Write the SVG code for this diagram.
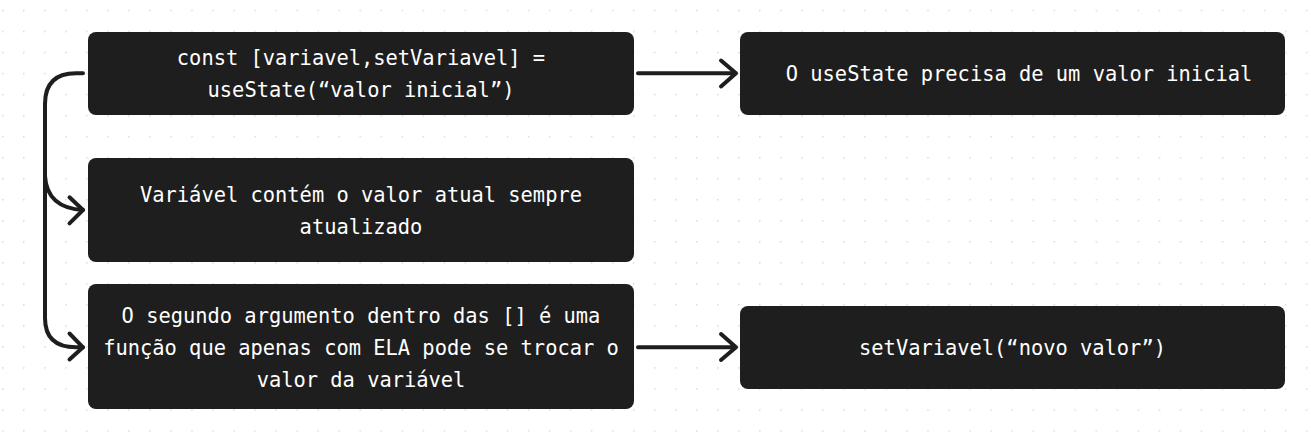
<svg xmlns="http://www.w3.org/2000/svg" width="1311" height="448" viewBox="0 0 1311 448">
<style>
.box{fill:#1e1e1e}
.t{fill:#ffffff;font-family:"DejaVu Sans Mono","Liberation Mono",monospace;font-size:20.4px;text-anchor:middle}
.c{fill:none;stroke:#1e1e1e;stroke-width:4;stroke-linecap:round;stroke-linejoin:round}
</style>
<defs>
<pattern id="dots" x="3" y="10.7" width="21.03" height="21.03" patternUnits="userSpaceOnUse">
<circle cx="0.6" cy="0.6" r="1" fill="#dcdcdc"/>
</pattern>
</defs>
<rect width="1311" height="448" fill="#ffffff"/>
<rect x="0" y="0" width="1311" height="448" fill="url(#dots)" transform="translate(-1 -1)"/>
<g id="connectors">
<path class="c" d="M638,73.3 L736,73.3 M721,60.5 L736,73.3 L721,86.5"/>
<path class="c" d="M638,347.3 L736,347.3 M721,334 L736,347.3 L721,360"/>
<path class="c" d="M83,73.3 L76,73.3 Q45,73.3 45,104 L45,318 Q45,347.3 76,347.3 L83,347.3"/>
<path class="c" d="M69.5,333.5 L83,347.3 L69.5,359.5"/>
<path class="c" d="M45,176 Q47,208 83,210"/>
<path class="c" d="M69.5,197.3 L83,210 L69.5,223.3"/>
</g>
<g id="node1">
<rect class="box" x="88" y="32" width="546" height="83" rx="8"/>
<text class="t" x="361" y="65">const [variavel,setVariavel] =</text>
<text class="t" x="361" y="97">useState(“valor inicial”)</text>
</g>
<g id="node2">
<rect class="box" x="740" y="32" width="545" height="83" rx="8"/>
<text class="t" x="1019" y="81">O useState precisa de um valor inicial</text>
</g>
<g id="node3">
<rect class="box" x="88" y="158" width="546" height="104" rx="8"/>
<text class="t" x="361" y="201.5">Variável contém o valor atual sempre</text>
<text class="t" x="361" y="233.5">atualizado</text>
</g>
<g id="node4">
<rect class="box" x="88" y="284" width="546" height="125" rx="8"/>
<text class="t" x="361" y="323">O segundo argumento dentro das [] é uma</text>
<text class="t" x="361" y="355">função que apenas com ELA pode se trocar o</text>
<text class="t" x="361" y="387">valor da variável</text>
</g>
<g id="node5">
<rect class="box" x="740" y="306" width="545" height="83" rx="8"/>
<text class="t" x="1012.5" y="355">setVariavel(“novo valor”)</text>
</g>
</svg>
